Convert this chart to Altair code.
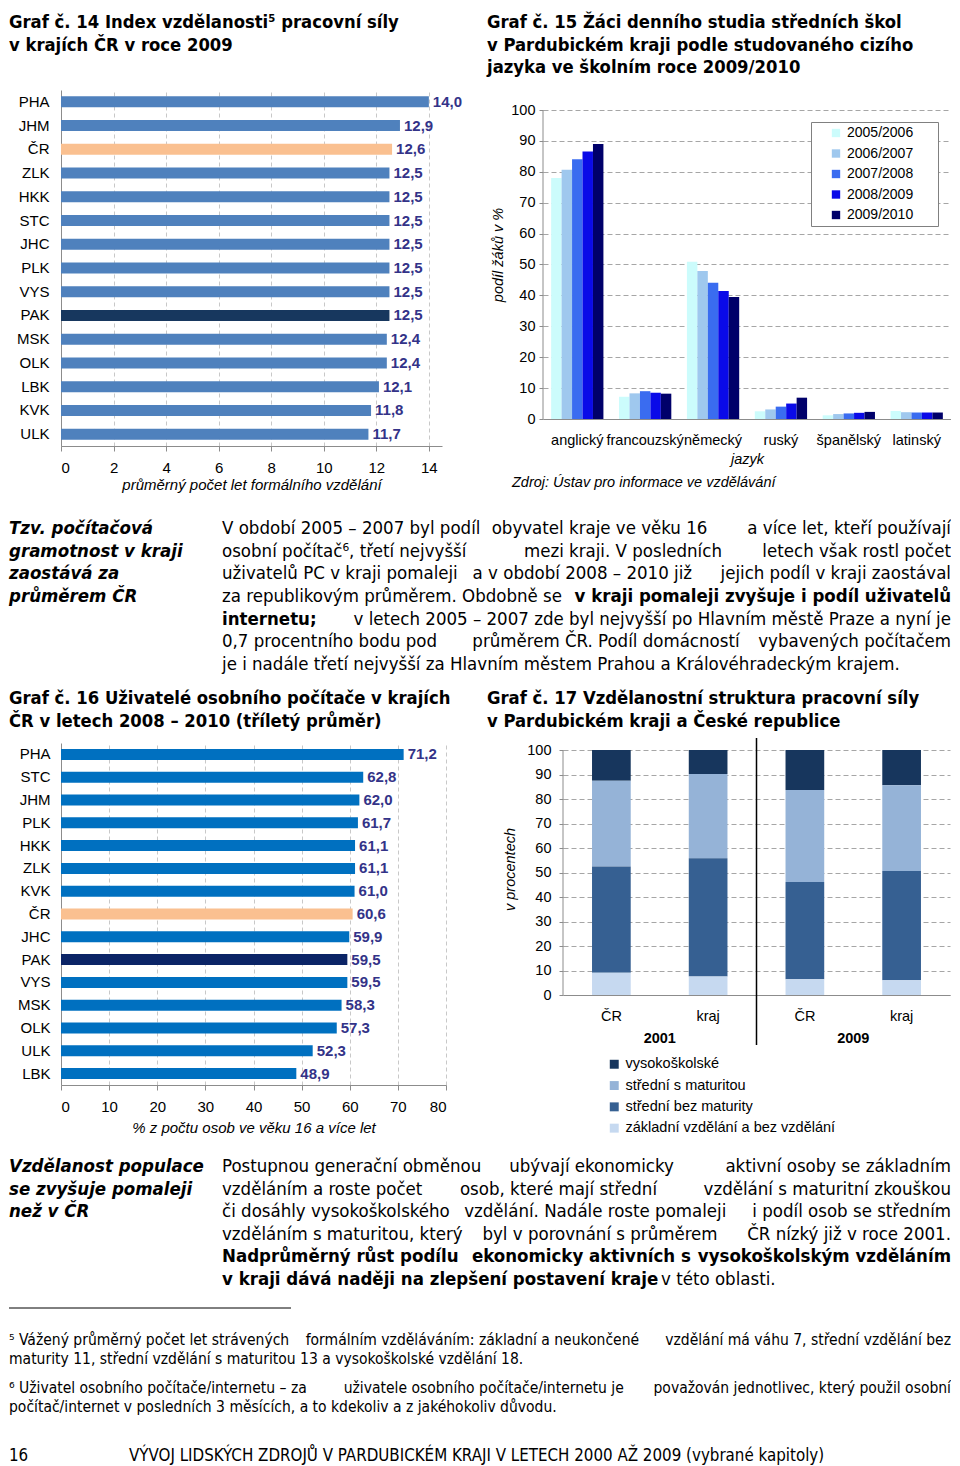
import altair as alt
import pandas as pd

NARROW = "Liberation Sans Narrow, Arial Narrow, DejaVu Sans Condensed, Liberation Sans, sans-serif"
SANS = "Liberation Sans, Arial, Helvetica, sans-serif"
VAL_COLOR = "#333388"

# ---------------- data ----------------
c14_regions = ["PHA", "JHM", "ČR", "ZLK", "HKK", "STC", "JHC", "PLK", "VYS", "PAK", "MSK", "OLK", "LBK", "KVK", "ULK"]
c14_values = [14.0, 12.9, 12.6, 12.5, 12.5, 12.5, 12.5, 12.5, 12.5, 12.5, 12.4, 12.4, 12.1, 11.8, 11.7]

c15_langs = ["anglický", "francouzský", "německý", "ruský", "španělský", "latinský"]
c15_years = ["2005/2006", "2006/2007", "2007/2008", "2008/2009", "2009/2010"]
c15_0506 = [78.0, 7.2, 50.9, 2.5, 1.2, 2.6]
c15_0607 = [80.7, 8.3, 47.9, 3.1, 1.6, 2.2]
c15_0708 = [84.1, 9.0, 44.1, 4.0, 1.8, 2.1]
c15_0809 = [86.6, 8.5, 41.4, 5.0, 2.0, 2.1]
c15_0910 = [89.0, 8.2, 39.5, 6.9, 2.3, 2.1]

c16_regions = ["PHA", "STC", "JHM", "PLK", "HKK", "ZLK", "KVK", "ČR", "JHC", "PAK", "VYS", "MSK", "OLK", "ULK", "LBK"]
c16_values = [71.2, 62.8, 62.0, 61.7, 61.1, 61.1, 61.0, 60.6, 59.9, 59.5, 59.5, 58.3, 57.3, 52.3, 48.9]

c17_bars = ["ČR 2001", "kraj 2001", "ČR 2009", "kraj 2009"]
c17_levels = ["vysokoškolské", "střední s maturitou", "střední bez maturity", "základní vzdělání a bez vzdělání"]
c17_vs = [12.5, 9.8, 16.3, 14.4]
c17_smat = [35.0, 34.4, 37.6, 35.0]
c17_bez = [43.4, 48.2, 39.7, 44.6]
c17_zakl = [9.1, 7.6, 6.4, 6.0]
c17_years = ["2001", "2009"]

title14 = ["Graf č. 14 Index vzdělanosti⁵ pracovní síly", "v krajích ČR v roce 2009"]
title15 = ["Graf č. 15 Žáci denního studia středních škol", "v Pardubickém kraji podle studovaného cizího",
           "jazyka ve školním roce 2009/2010"]
title16 = ["Graf č. 16 Uživatelé osobního počítače v krajích", "ČR v letech 2008 – 2010 (tříletý průměr)"]
title17 = ["Graf č. 17 Vzdělanostní struktura pracovní síly", "v Pardubickém kraji a České republice"]
source15 = "Zdroj: Ústav pro informace ve vzdělávání"

side1 = ["Tzv. počítačová", "gramotnost v kraji", "zaostává za", "průměrem ČR"]
para1 = [
    ("j", "V období 2005 – 2007 byl podíl obyvatel kraje ve věku 16 a více let, kteří používají"),
    ("j", "osobní počítač⁶, třetí nejvyšší mezi kraji. V posledních letech však rostl počet"),
    ("j", "uživatelů PC v kraji pomaleji a v období 2008 – 2010 již jejich podíl v kraji zaostával"),
    ("nb", "za republikovým průměrem. Obdobně se", "v kraji pomaleji zvyšuje i podíl uživatelů"),
    ("bn", "internetu;", "v letech 2005 – 2007 zde byl nejvyšší po Hlavním městě Praze a nyní je"),
    ("j", "0,7 procentního bodu pod průměrem ČR. Podíl domácností vybavených počítačem"),
    ("l", "je i nadále třetí nejvyšší za Hlavním městem Prahou a Královéhradeckým krajem."),
]
side2 = ["Vzdělanost populace", "se zvyšuje pomaleji", "než v ČR"]
para2 = [
    ("j", "Postupnou generační obměnou ubývají ekonomicky aktivní osoby se základním"),
    ("j", "vzděláním a roste počet osob, které mají střední vzdělání s maturitní zkouškou"),
    ("j", "či dosáhly vysokoškolského vzdělání. Nadále roste pomaleji i podíl osob se středním"),
    ("j", "vzděláním s maturitou, který byl v porovnání s průměrem ČR nízký již v roce 2001."),
    ("jb", "Nadprůměrný růst podílu ekonomicky aktivních s vysokoškolským vzděláním"),
    ("bl", "v kraji dává naději na zlepšení postavení kraje", "v této oblasti."),
]
foot5 = ["⁵ Vážený průměrný počet let strávených formálním vzděláváním: základní a neukončené vzdělání má váhu 7, střední vzdělání bez",
         "maturity 11, střední vzdělání s maturitou 13 a vysokoškolské vzdělání 18."]
foot6 = ["⁶ Uživatel osobního počítače/internetu – za uživatele osobního počítače/internetu je považován jednotlivec, který použil osobní",
         "počítač/internet v posledních 3 měsících, a to kdekoliv a z jakéhokoliv důvodu."]
footer_page = "16"
footer_text = "VÝVOJ LIDSKÝCH ZDROJŮ V PARDUBICKÉM KRAJI V LETECH 2000 AŽ 2009 (vybrané kapitoly)"

# ---------------- layout constants (pixels, relative to the left plot edge) ----------------
LEFT = -52          # left edge of page text
RIGHT = 890         # right edge of justified text
P_LEFT = 161        # paragraph start
COL2 = 426          # right column titles
BODY = 18.5
TITLE_SIZE = 18.3
W14, H14 = 381, 356
W15, H15, GAP15 = 408, 309, 20
W16, H16 = 385, 342
W17, H17, GAP17 = 387, 245, 7


def fmt(v):
    return f"{v:.1f}".replace(".", ",")


def kind(r):
    return r if r in ("ČR", "PAK") else "kraj"


def hbar_chart(regions, values, xmax, ticks, xtitle, colors, w, h, lpad, tpad):
    df = pd.DataFrame({"kraj": regions, "hodnota": values})
    df["popis"] = [fmt(v) for v in values]
    df["typ"] = [kind(r) for r in regions]
    y = alt.Y("kraj:N", sort=regions, scale=alt.Scale(paddingInner=0.5, paddingOuter=0.25),
              axis=alt.Axis(title=None, labelFontSize=15, labelPadding=lpad, ticks=False,
                            domainColor="#8c8c8c"))
    x = alt.X("hodnota:Q", scale=alt.Scale(domain=[0, xmax], nice=False),
              axis=alt.Axis(values=ticks, title=xtitle, titleFontStyle="italic", titleFontWeight="normal",
                            titleFontSize=15, labelFontSize=15, grid=True, gridDash=[4, 3],
                            gridColor="#c8c8c8", tickSize=5, tickColor="#8c8c8c", domainColor="#8c8c8c",
                            labelPadding=9, titlePadding=tpad, labelOverlap=False))
    bars = alt.Chart(df).mark_bar(size=11).encode(
        y=y, x=x,
        color=alt.Color("typ:N", scale=alt.Scale(domain=["kraj", "ČR", "PAK"], range=colors), legend=None))
    labels = alt.Chart(df).mark_text(align="left", dx=4, fontWeight="bold", fontSize=15, font=SANS,
                                     color=VAL_COLOR).encode(y=y, x="hodnota:Q", text="popis:N")
    return alt.layer(bars, labels).properties(width=w, height=h)


def yaxis_pct(title, lpad, tpad):
    return alt.Axis(values=list(range(0, 101, 10)), title=title, titleFontStyle="italic",
                    titleFontWeight="normal", titleFontSize=14.5, labelFontSize=14.5, grid=True,
                    gridDash=[5, 3], gridColor="#a6a6a6", tickSize=4, tickColor="#8c8c8c",
                    domain=False, labelPadding=lpad, titlePadding=tpad, labelOverlap=False)


def axis_line(scale, ax):
    return alt.Chart(pd.DataFrame({"s": [0]})).mark_rule(color="#8c8c8c").encode(
        x=alt.value(0), y=alt.YDatum(0, scale=scale, axis=ax), y2=alt.Y2Datum(100))


def txt(s, x, y, align="left", weight="normal", style="normal", size=BODY, font=NARROW):
    return alt.Chart(pd.DataFrame({"t": [s]})).mark_text(
        align=align, baseline="middle", fontSize=size, font=font, fontWeight=weight, fontStyle=style,
        color="black").encode(text="t:N", x=alt.value(x), y=alt.value(y))


def nearest_space(s, target):
    return min((i for i, c in enumerate(s) if c == " "), key=lambda i: abs(i - target))


def justified(s, xl, xr, y, weight="normal", size=BODY):
    """Approximate a justified line with three pieces: left, centre, right."""
    n = len(s)
    i1 = nearest_space(s, n / 3)
    i2 = nearest_space(s, 2 * n / 3)
    a, b, c = s[:i1], s[i1 + 1:i2], s[i2 + 1:]
    centre = xl + (len(a) + 1 + len(b) / 2) / n * (xr - xl)
    return [txt(a, xl, y, "left", weight, size=size),
            txt(b, centre, y, "center", weight, size=size),
            txt(c, xr, y, "right", weight, size=size)]


def paragraph(lines, y0, step, xl, xr, x_tail, size=BODY):
    out = []
    for i, ln in enumerate(lines):
        y = y0 + i * step
        k = ln[0]
        if k in ("j", "jb"):
            out += justified(ln[1], xl, xr, y, "bold" if k == "jb" else "normal", size)
        elif k == "l":
            out.append(txt(ln[1], xl, y, "left", size=size))
        elif k == "nb":
            out.append(txt(ln[1], xl, y, "left", "normal", size=size))
            out.append(txt(ln[2], xr, y, "right", "bold", size=size))
        elif k == "bn":
            out.append(txt(ln[1], xl, y, "left", "bold", size=size))
            out.append(txt(ln[2], xr, y, "right", "normal", size=size))
        elif k == "bl":
            out.append(txt(ln[1], xl, y, "left", "bold", size=size))
            out.append(txt(ln[2], x_tail, y, "left", "normal", size=size))
    return out


def title_lines(lines, x, y0):
    return [txt(s, x, y0 + i * 22.5, "left", "bold", size=TITLE_SIZE) for i, s in enumerate(lines)]


# ---------------- chart 14 ----------------
c14 = hbar_chart(c14_regions, c14_values, 14.5, list(range(0, 15, 2)),
                 "průměrný počet let formálního vzdělání", ["#4f81bd", "#fac090", "#17375e"], W14, H14, 12, 2)

# ---------------- chart 15 ----------------
rows = []
for yr, vals in zip(c15_years, [c15_0506, c15_0607, c15_0708, c15_0809, c15_0910]):
    for lang, v in zip(c15_langs, vals):
        rows.append({"jazyk": lang, "rok": yr, "podil": v})
df15 = pd.DataFrame(rows)
scale15 = alt.Scale(domain=[0, 100 * (H15 + GAP15) / H15], nice=False)
axis15 = yaxis_pct("podíl žáků v %", 4, 5)
bars15 = alt.Chart(df15).mark_bar().encode(
    x=alt.X("jazyk:N", sort=c15_langs, scale=alt.Scale(paddingInner=0.23, paddingOuter=0.12),
            axis=alt.Axis(title="jazyk", titleFontStyle="italic", titleFontWeight="normal", titleFontSize=14.5,
                          labelFontSize=14.5, labelAngle=0, ticks=False, labelPadding=14,
                          domainColor="#8c8c8c", titlePadding=6)),
    xOffset=alt.XOffset("rok:N", sort=c15_years, scale=alt.Scale(paddingInner=0, paddingOuter=0)),
    y=alt.Y("podil:Q", scale=scale15, axis=axis15),
    color=alt.Color("rok:N", sort=c15_years,
                    scale=alt.Scale(domain=c15_years,
                                    range=["#ccfcfc", "#9fc8ee", "#3a6cf0", "#0a0ae8", "#00006a"]),
                    legend=alt.Legend(title=None, orient="none", legendX=268, legendY=GAP15 + 12,
                                      strokeColor="#808080", fillColor="white", padding=4,
                                      symbolType="square", symbolSize=70, symbolStrokeWidth=0,
                                      symbolOffset=14, labelFontSize=14, labelFont=SANS, rowPadding=6.5,
                                      labelExpr="datum.label + '\u2800\u2800'")),
)
src15 = alt.Chart(pd.DataFrame({"t": [source15]})).mark_text(
    align="left", baseline="middle", fontStyle="italic", fontSize=14.5, font=SANS, color="black").encode(
    text="t:N", x=alt.value(-31), y=alt.value(GAP15 + 373))
c15 = alt.layer(bars15, axis_line(scale15, axis15), src15).properties(width=W15, height=H15 + GAP15)

# ---------------- chart 16 ----------------
c16 = hbar_chart(c16_regions, c16_values, 80, list(range(0, 81, 10)),
                 "% z počtu osob ve věku 16 a více let", ["#0070c0", "#fac090", "#0b2466"], W16, H16, 11, 6)

# ---------------- chart 17 ----------------
rows = []
for lvl, vals in zip(c17_levels, [c17_vs, c17_smat, c17_bez, c17_zakl]):
    for b, v in zip(c17_bars, vals):
        rows.append({"sloupec": b, "uroven": lvl, "podil": v, "poradi": 3 - c17_levels.index(lvl)})
df17 = pd.DataFrame(rows)
scale17 = alt.Scale(domain=[0, 100 * (H17 + GAP17) / H17], nice=False)
axis17 = yaxis_pct("v procentech", 8, 9)
x17 = alt.X("sloupec:N", sort=c17_bars, scale=alt.Scale(paddingInner=0.6, paddingOuter=0.3),
            axis=alt.Axis(title=None, labelExpr="split(datum.label, ' ')[0]", labelFontSize=14.5, labelAngle=0,
                          ticks=False, labelPadding=14, domainColor="#8c8c8c"))
bars17 = alt.Chart(df17).mark_bar().encode(
    x=x17,
    y=alt.Y("podil:Q", stack="zero", scale=scale17, axis=axis17),
    order=alt.Order("poradi:Q", sort="ascending"),
    color=alt.Color("uroven:N", sort=c17_levels,
                    scale=alt.Scale(domain=c17_levels, range=["#17365d", "#95b3d7", "#366092", "#c6d9f0"]),
                    legend=alt.Legend(title=None, orient="none", legendX=44, legendY=GAP17 + 307, padding=0,
                                      symbolType="square", symbolSize=80, symbolStrokeWidth=0,
                                      labelFontSize=14.5, labelFont=SANS, rowPadding=6.3, labelLimit=400)),
)
years17 = alt.Chart(pd.DataFrame({"sloupec": ["ČR 2001", "ČR 2009"], "rok": c17_years})).mark_text(
    dx=W17 / 8, baseline="middle", fontWeight="bold", fontSize=14.5, font=SANS, color="black").encode(
    x=alt.X("sloupec:N", sort=c17_bars), y=alt.value(GAP17 + 289), text="rok:N")
sep17 = alt.Chart(pd.DataFrame({"s": [0]})).mark_rule(color="black", strokeWidth=1.5).encode(
    x=alt.value(W17 / 2), y=alt.value(GAP17 - 12), y2=alt.value(GAP17 + 295))
c17 = alt.layer(bars17, axis_line(scale17, axis17), years17, sep17).properties(width=W17, height=H17 + GAP17)

# ---------------- text blocks ----------------
t0_layers = title_lines(title14, LEFT, 9) + title_lines(title15, COL2, 9)
t0 = alt.layer(*t0_layers).properties(width=RIGHT, height=76)

t1_layers = [txt(s, LEFT, 36 + i * 22.67, "left", "bold", "italic") for i, s in enumerate(side1)]
t1_layers += paragraph(para1, 36, 22.67, P_LEFT, RIGHT, 600)
t1_layers += title_lines(title16, LEFT, 207) + title_lines(title17, COL2, 207)
t1 = alt.layer(*t1_layers).properties(width=RIGHT, height=245)

t2_layers = [txt(s, LEFT, 31 + i * 22.6, "left", "bold", "italic") for i, s in enumerate(side2)]
t2_layers += paragraph(para2, 31, 22.6, P_LEFT, RIGHT, 600)
t2_layers.append(alt.Chart(pd.DataFrame({"s": [0]})).mark_rule(color="black", strokeWidth=1).encode(
    x=alt.value(LEFT), x2=alt.value(LEFT + 282), y=alt.value(173)))
for j, fn in enumerate([foot5, foot6]):
    y = 205 + j * 48
    t2_layers += justified(fn[0], LEFT, RIGHT, y, size=15.5)
    t2_layers.append(txt(fn[1], LEFT, y + 19, "left", size=15.5))
t2_layers.append(txt(footer_page, LEFT, 321, "left", size=16.8))
t2_layers.append(txt(footer_text, 68, 321, "left", size=16.8))
t2 = alt.layer(*t2_layers).properties(width=RIGHT, height=318)

# ---------------- page layout ----------------
row1 = alt.hconcat(c14, c15, spacing=482 - W14, bounds="flush").resolve_scale(color="independent")
row3 = alt.hconcat(c16, c17, spacing=502 - W16, bounds="flush").resolve_scale(color="independent")

chart = alt.vconcat(t0, row1, t1, row3, t2, spacing=0).resolve_scale(
    color="independent").properties(padding={"top": 5, "left": 0, "right": 0, "bottom": 0}).configure_view(
    stroke=None).configure_axis(labelFont=SANS, titleFont=SANS, labelColor="black", titleColor="black")

chart.save("out.html", embed_options={"renderer": "svg", "actions": False})
